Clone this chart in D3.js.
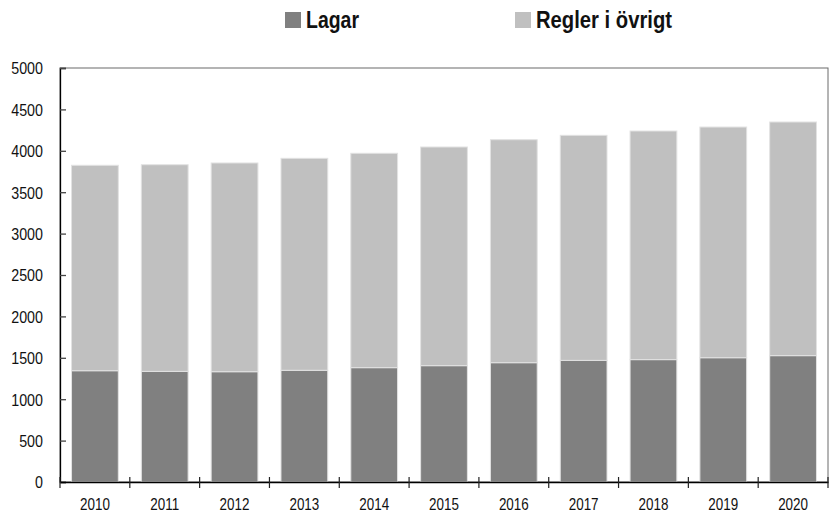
<!DOCTYPE html>
<html>
<head>
<meta charset="utf-8">
<script src="https://cdn.jsdelivr.net/npm/d3@7"></script>
<style>
  body { margin: 0; background: #fff; }
  svg { display: block; }
  svg text { font-family: "Liberation Sans", Arial, sans-serif; }
</style>
</head>
<body>
<svg id="chart" width="830" height="515"></svg>
<script>
// values
const years = ['2010', '2011', '2012', '2013', '2014', '2015', '2016', '2017', '2018', '2019', '2020'];
const lagar = [1344, 1336, 1332, 1349, 1381, 1405, 1441, 1469, 1478, 1501, 1526];
const totals = [3825, 3832, 3853, 3909, 3970, 4046, 4134, 4187, 4239, 4287, 4348];
const regler = totals.map((t, i) => t - lagar[i]);
const yTicks = [0, 500, 1000, 1500, 2000, 2500, 3000, 3500, 4000, 4500, 5000];
const seriesNames = ['Lagar', 'Regler i övrigt'];
const colors = ['#808080', '#c0c0c0'];

const svg = d3.select("#chart");
const margin = { top: 68, right: 2, bottom: 33, left: 60 };
const width = +svg.attr("width");
const height = +svg.attr("height");
const innerHeight = height - margin.top - margin.bottom;
const narrow = 0.84; // horizontal squeeze to imitate the condensed face

const rows = years.map((y, i) => ({ year: y, lagar: lagar[i], regler: regler[i] }));
const stacked = d3.stack().keys(['lagar', 'regler'])(rows);

const x = d3.scaleBand()
  .domain(years)
  .range([margin.left, width - margin.right])
  .paddingInner(0.33)
  .paddingOuter(0.165);

const y = d3.scaleLinear()
  .domain([0, 5000])
  .range([margin.top + innerHeight, margin.top]);

// plot frame
svg.append("rect")
  .attr("x", margin.left)
  .attr("y", y(5000))
  .attr("width", width - margin.right - margin.left)
  .attr("height", y(0) - y(5000))
  .attr("fill", "none")
  .attr("stroke", "#6a6a6a")
  .attr("stroke-width", 1);

// bars
svg.append("g")
  .selectAll("g")
  .data(stacked)
  .enter().append("g")
    .attr("fill", (d, i) => colors[i])
  .selectAll("rect")
  .data(d => d)
  .enter().append("rect")
    .attr("x", d => x(d.data.year))
    .attr("y", d => y(d[1]))
    .attr("width", x.bandwidth())
    .attr("height", d => y(d[0]) - y(d[1]))
    .attr("stroke", "#e2e2e2")
    .attr("stroke-width", 1);

// y axis, ticks pointing inward
const yAxis = svg.append("g")
  .attr("transform", `translate(${margin.left},0)`)
  .call(d3.axisLeft(y).tickValues(yTicks).tickSize(-6).tickPadding(0).tickFormat(d3.format("d")));
yAxis.select(".domain").attr("stroke", "#000").attr("stroke-width", 1.3);
yAxis.selectAll(".tick line").attr("stroke", "#444").attr("stroke-width", 1.3);
yAxis.selectAll("text")
  .attr("x", null)
  .attr("font-size", 17)
  .attr("fill", "#111")
  .attr("dy", "0.35em")
  .attr("transform", `translate(-17,0) scale(${narrow},1)`);

// x axis: labels centred, ticks at category boundaries
const xAxis = svg.append("g")
  .attr("transform", `translate(0,${y(0)})`)
  .call(d3.axisBottom(x).tickSize(0).tickPadding(0));
xAxis.select(".domain").attr("stroke", "#000").attr("stroke-width", 1.3);
xAxis.selectAll("text")
  .attr("y", null)
  .attr("dy", null)
  .attr("font-size", 16)
  .attr("fill", "#111")
  .attr("transform", `translate(0,27.5) scale(${narrow},1)`);

const half = x.step() * x.paddingInner() / 2;
const bounds = years.map(d => x(d) - half).concat([x(years[years.length - 1]) + x.bandwidth() + half]);
xAxis.selectAll(".bound")
  .data(bounds)
  .enter().append("line")
    .attr("class", "bound")
    .attr("x1", d => d).attr("x2", d => d)
    .attr("y1", -5).attr("y2", 6)
    .attr("stroke", "#222")
    .attr("stroke-width", 1.2);

// legend
const legendX = [285, 515];
const legendW = [53, 136];
const legend = svg.append("g");
seriesNames.forEach((name, i) => {
  legend.append("rect")
    .attr("x", legendX[i])
    .attr("y", 12)
    .attr("width", 16)
    .attr("height", 16)
    .attr("fill", colors[i]);
  legend.append("text")
    .attr("x", legendX[i] + 21)
    .attr("y", 27.5)
    .attr("font-size", 24)
    .attr("font-weight", "bold")
    .attr("fill", "#111")
    .attr("textLength", legendW[i])
    .attr("lengthAdjust", "spacingAndGlyphs")
    .text(name);
});
</script>
</body>
</html>
